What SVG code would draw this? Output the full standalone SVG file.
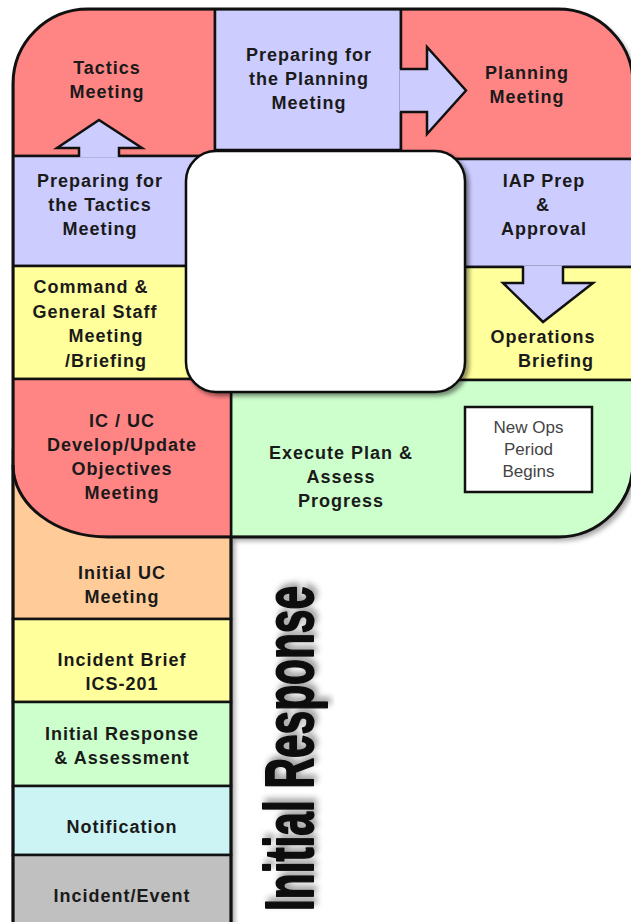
<svg xmlns="http://www.w3.org/2000/svg" width="631" height="922" viewBox="0 0 631 922">
  <style>
    .t { font-family: "Liberation Sans", Arial, sans-serif; font-weight: bold; font-size: 18px; letter-spacing: 1px; fill: #1a1a1a; text-anchor: middle; }
    .n { font-family: "Liberation Sans", Arial, sans-serif; font-size: 17px; fill: #444; text-anchor: middle; }
    .tile { stroke: #111; stroke-width: 2.5; }
    .red { fill: #ff8585; }
    .lav { fill: #ccccff; }
    .yel { fill: #ffff9c; }
    .grn { fill: #ccffcc; }
    .org { fill: #ffcc99; }
    .cyn { fill: #ccf4f4; }
    .gry { fill: #c0c0c0; }
    .arrowfill { stroke: none; fill: #ccccff; }
    .arrowline { fill: none; stroke: #111; stroke-width: 2.5; stroke-linejoin: miter; }
    .outline { fill: none; stroke: #111; stroke-width: 3; }
  </style>
  <defs>
    <clipPath id="loop">
      <path d="M 88,9 H 558 A 75 75 0 0 1 633,84 V 462 A 75 75 0 0 1 558,537 H 108 A 95 72 0 0 1 13,465 V 84 A 75 75 0 0 1 88,9 Z"/>
    </clipPath>
    <filter id="blur" x="-10%" y="-10%" width="120%" height="120%">
      <feGaussianBlur stdDeviation="2.5"/>
    </filter>
    <filter id="ds" x="-10%" y="-10%" width="125%" height="125%">
      <feDropShadow dx="3" dy="3" stdDeviation="2" flood-color="#000" flood-opacity="0.45"/>
    </filter>
    <filter id="ts" x="-20%" y="-5%" width="140%" height="115%">
      <feDropShadow dx="4" dy="3" stdDeviation="3" flood-color="#000" flood-opacity="0.4"/>
    </filter>
  </defs>

  <rect width="631" height="922" fill="#ffffff"/>

  <!-- shadow of the whole shape -->
  <g id="shadow" filter="url(#blur)" fill="#000" opacity="0.35" transform="translate(4,4)">
    <path d="M 88,9 H 558 A 75 75 0 0 1 633,84 V 462 A 75 75 0 0 1 558,537 H 108 A 95 72 0 0 1 13,465 V 84 A 75 75 0 0 1 88,9 Z"/>
    <rect x="13" y="450" width="218" height="480"/>
  </g>

  <!-- lower column: initial response -->
  <g id="initial-uc">
    <rect class="tile org" x="13" y="450" width="218" height="169"/>
    <text class="t" x="122" y="579">Initial UC</text>
    <text class="t" x="122" y="603">Meeting</text>
  </g>
  <g id="incident-brief">
    <rect class="tile yel" x="13" y="619" width="218" height="83"/>
    <text class="t" x="122" y="666">Incident Brief</text>
    <text class="t" x="122" y="690">ICS-201</text>
  </g>
  <g id="initial-response-assessment">
    <rect class="tile grn" x="13" y="702" width="218" height="84"/>
    <text class="t" x="122" y="740">Initial Response</text>
    <text class="t" x="122" y="764">&amp; Assessment</text>
  </g>
  <g id="notification">
    <rect class="tile cyn" x="13" y="786" width="218" height="69"/>
    <text class="t" x="122" y="833">Notification</text>
  </g>
  <g id="incident-event">
    <rect class="tile gry" x="13" y="855" width="218" height="75"/>
    <text class="t" x="122" y="902">Incident/Event</text>
  </g>

  <!-- loop tiles -->
  <g id="tactics-meeting">
    <rect class="tile red" x="13" y="9" width="202" height="147" clip-path="url(#loop)"/>
    <text class="t" x="107" y="74">Tactics</text>
    <text class="t" x="107" y="98">Meeting</text>
  </g>
  <g id="prep-planning">
    <rect class="tile lav" x="215" y="9" width="186" height="141" clip-path="url(#loop)"/>
    <text class="t" x="309" y="61">Preparing for</text>
    <text class="t" x="309" y="85">the Planning</text>
    <text class="t" x="309" y="109">Meeting</text>
  </g>
  <g id="planning-meeting">
    <rect class="tile red" x="401" y="9" width="232" height="150" clip-path="url(#loop)"/>
    <text class="t" x="527" y="79">Planning</text>
    <text class="t" x="527" y="103">Meeting</text>
  </g>
  <g id="prep-tactics">
    <rect class="tile lav" x="13" y="156" width="202" height="110" clip-path="url(#loop)"/>
    <text class="t" x="100" y="187">Preparing for</text>
    <text class="t" x="100" y="211">the Tactics</text>
    <text class="t" x="100" y="235">Meeting</text>
  </g>
  <g id="command-general-staff">
    <rect class="tile yel" x="13" y="266" width="202" height="113" clip-path="url(#loop)"/>
    <text class="t" x="91" y="293">Command &amp;</text>
    <text class="t" x="95" y="318">General Staff</text>
    <text class="t" x="106" y="342">Meeting</text>
    <text class="t" x="106" y="367">/Briefing</text>
  </g>
  <g id="iap-prep">
    <rect class="tile lav" x="435" y="159" width="198" height="108" clip-path="url(#loop)"/>
    <text class="t" x="544" y="187">IAP Prep</text>
    <text class="t" x="543" y="211">&amp;</text>
    <text class="t" x="544" y="235">Approval</text>
  </g>
  <g id="operations-briefing">
    <rect class="tile yel" x="435" y="267" width="198" height="113" clip-path="url(#loop)"/>
    <text class="t" x="543" y="343">Operations</text>
    <text class="t" x="556" y="367">Briefing</text>
  </g>
  <g id="execute-plan">
    <rect class="tile grn" x="231" y="380" width="402" height="157" clip-path="url(#loop)"/>
    <text class="t" x="341" y="459">Execute Plan &amp;</text>
    <text class="t" x="341" y="483">Assess</text>
    <text class="t" x="341" y="507">Progress</text>
  </g>
  <g id="ic-uc-objectives">
    <rect class="tile red" x="13" y="379" width="218" height="158" clip-path="url(#loop)"/>
    <text class="t" x="122" y="427">IC / UC</text>
    <text class="t" x="122" y="451">Develop/Update</text>
    <text class="t" x="122" y="475">Objectives</text>
    <text class="t" x="122" y="499">Meeting</text>
  </g>

  <!-- outlines -->
  <g id="outlines">
    <path class="outline" d="M 88,9 H 558 A 75 75 0 0 1 633,84 V 462 A 75 75 0 0 1 558,537 H 108 A 95 72 0 0 1 13,465 V 84 A 75 75 0 0 1 88,9 Z"/>
    <path class="outline" d="M 13,465 V 925 M 231,537 V 925"/>
  </g>

  <!-- center -->
  <g id="center">
    <rect x="186" y="151" width="279" height="241" rx="30" ry="30" fill="#ffffff" stroke="#111" stroke-width="2.5" filter="url(#ds)"/>
  </g>

  <!-- connectors (arrows) -->
  <g id="connectors">
    <g id="arrow-up">
      <polygon class="arrowfill" points="79,157.5 79,148 57,148 99,120 142,148 119,148 119,157.5"/>
      <polyline class="arrowline" points="79,157 79,148 57,148 99,120 142,148 119,148 119,157"/>
    </g>
    <g id="arrow-right">
      <polygon class="arrowfill" points="399.5,69 427,69 427,47 466,90.5 427,134 427,112 399.5,112"/>
      <polyline class="arrowline" points="400,69 427,69 427,47 466,90.5 427,134 427,112 400,112"/>
    </g>
    <g id="arrow-down">
      <polygon class="arrowfill" points="523,265.5 523,283 503,283 543,322 593,283 563,283 563,265.5"/>
      <polyline class="arrowline" points="523,266 523,283 503,283 543,322 593,283 563,283 563,266"/>
    </g>
  </g>

  <!-- new ops period box -->
  <g id="new-ops-period">
    <rect x="465" y="407" width="127" height="85" fill="#ffffff" stroke="#111" stroke-width="2.5"/>
    <text class="n" x="528.5" y="433">New Ops</text>
    <text class="n" x="528.5" y="455">Period</text>
    <text class="n" x="528.5" y="477">Begins</text>
  </g>

  <!-- vertical title -->
  <g id="title">
    <text x="0" y="0" transform="translate(313,911) rotate(-90)" filter="url(#ts)" font-family="'Liberation Sans', Arial, sans-serif" font-weight="bold" font-size="68" fill="#111" stroke="#111" stroke-width="2" stroke-linejoin="round" textLength="325" lengthAdjust="spacingAndGlyphs">Initial Response</text>
  </g>
</svg>
